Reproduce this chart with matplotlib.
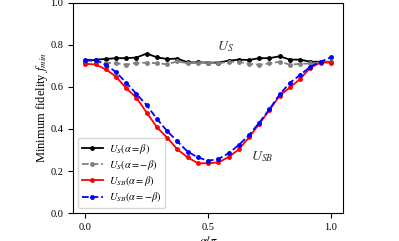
import matplotlib
matplotlib.use('Agg')
import matplotlib.pyplot as plt
import numpy as np

plt.rcParams['font.family'] = ['Liberation Serif', 'DejaVu Serif']
plt.rcParams['mathtext.fontset'] = 'stix'

x = np.arange(25) / 24

us_eq = [0.72, 0.73, 0.733, 0.737, 0.737, 0.74, 0.759, 0.741, 0.733, 0.735, 0.717, 0.717, 0.716,
         0.716, 0.725, 0.73, 0.728, 0.737, 0.737, 0.746, 0.73, 0.73, 0.72, 0.72, 0.72]
us_neg = [0.725, 0.72, 0.715, 0.713, 0.706, 0.715, 0.715, 0.713, 0.708, 0.722, 0.713, 0.715, 0.716,
          0.712, 0.72, 0.72, 0.71, 0.706, 0.712, 0.72, 0.706, 0.71, 0.712, 0.717, 0.72]
usb_eq = [0.71, 0.707, 0.684, 0.649, 0.594, 0.549, 0.478, 0.408, 0.359, 0.303, 0.265, 0.237, 0.237,
          0.241, 0.266, 0.303, 0.36, 0.424, 0.49, 0.559, 0.598, 0.638, 0.692, 0.716, 0.716]
usb_neg = [0.729, 0.729, 0.705, 0.671, 0.62, 0.567, 0.513, 0.448, 0.39, 0.341, 0.292, 0.265, 0.249,
           0.257, 0.284, 0.324, 0.371, 0.43, 0.494, 0.565, 0.62, 0.657, 0.697, 0.72, 0.741]

fig = plt.figure(figsize=(3.99, 2.41), dpi=100)
ax = fig.add_axes([0.183, 0.116, 0.677, 0.872])

ax.plot(x, us_eq, '-', color='black', marker='o', ms=2.5, lw=1.3, label=r'$U_S(\alpha=\beta)$')
ax.plot(x, us_neg, '--', color='gray', marker='o', ms=2.5, lw=1.3, label=r'$U_S(\alpha=-\beta)$')
ax.plot(x, usb_eq, '-', color='red', marker='o', ms=2.5, lw=1.3, label=r'$U_{SB}(\alpha=\beta)$')
ax.plot(x, usb_neg, '--', color='blue', marker='o', ms=2.5, lw=1.3, label=r'$U_{SB}(\alpha=-\beta)$')

ax.text(0.57, 0.79, r'$U_S$', fontsize=10, color='#333333', ha='center', va='center')
ax.text(0.72, 0.27, r'$U_{SB}$', fontsize=10, color='#333333', ha='center', va='center')

ax.set_xlim(-0.05, 1.05)
ax.set_ylim(0.0, 1.0)
ax.set_xticks([0.0, 0.5, 1.0])
ax.set_yticks([0.0, 0.2, 0.4, 0.6, 0.8, 1.0])
ax.tick_params(labelsize=7.5)
ax.set_xlabel(r'$\alpha/\pi$', fontsize=9, labelpad=2)
ax.set_ylabel(r'Minimum fidelity $f_{min}$', fontsize=9, labelpad=0)
ax.legend(loc='lower left', fontsize=7.5, handlelength=2.0, borderpad=0.35,
          labelspacing=0.2, handletextpad=0.6)

fig.savefig('out.png', dpi=100)
